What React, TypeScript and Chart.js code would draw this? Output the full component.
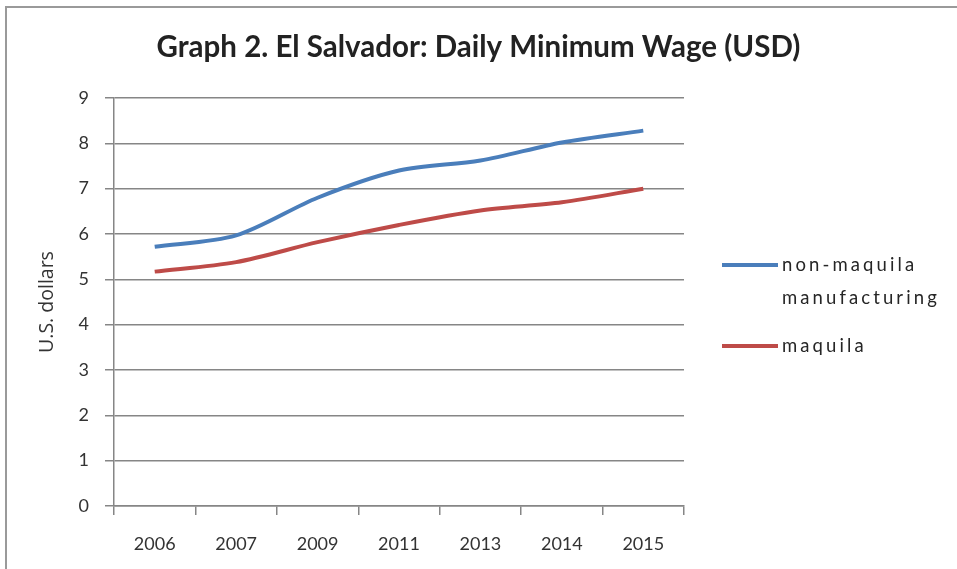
import React, { useEffect, useRef } from "react";
import { Chart, registerables } from "chart.js";

Chart.register(...registerables);

const years = ["2006", "2007", "2009", "2011", "2013", "2014", "2015"];
const nonMaquila = [5.72, 5.97, 6.8, 7.4, 7.62, 8.02, 8.28];
const maquila = [5.17, 5.38, 5.82, 6.2, 6.52, 6.7, 7.0];
const seriesNames = ["non-maquila manufacturing", "maquila"];
const seriesColors = ["#4a7ebb", "#be4b48"];
const titleText = "Graph 2. El Salvador: Daily Minimum Wage (USD)";
const yTitle = "U.S. dollars";

const FONT = "Lato, 'Open Sans', sans-serif";

export default function App() {
  const ref = useRef<HTMLCanvasElement | null>(null);

  useEffect(() => {
    if (!ref.current) return;
    const chart = new Chart(ref.current, {
      type: "line",
      data: {
        labels: years,
        datasets: [
          {
            label: seriesNames[0],
            data: nonMaquila,
            borderColor: seriesColors[0],
            backgroundColor: seriesColors[0],
            borderWidth: 4,
            pointRadius: 0,
            tension: 0.3,
          },
          {
            label: seriesNames[1],
            data: maquila,
            borderColor: seriesColors[1],
            backgroundColor: seriesColors[1],
            borderWidth: 4,
            pointRadius: 0,
            tension: 0.3,
          },
        ],
      },
      options: {
        animation: false,
        responsive: false,
        maintainAspectRatio: false,
        layout: { padding: 0 },
        plugins: {
          legend: { display: false },
          tooltip: { enabled: false },
          title: {
            display: true,
            text: titleText,
            color: "#222222",
            font: { family: FONT, size: 29.5, weight: "bold", lineHeight: 1.2 },
            padding: { top: 30, bottom: 32.6 },
          },
        },
        scales: {
          x: {
            offset: true,
            grid: {
              offset: true,
              drawOnChartArea: false,
              drawTicks: true,
              tickLength: 9,
              color: "#868686",
              lineWidth: 1.5,
            },
            border: { display: true, color: "#868686", width: 1.5 },
            ticks: {
              color: "#333333",
              font: { family: FONT, size: 18 },
              padding: 18,
              maxRotation: 0,
            },
            afterFit: (scale: any) => {
              scale.height = 63;
            },
          },
          y: {
            min: 0,
            max: 9,
            ticks: {
              stepSize: 1,
              color: "#333333",
              font: { family: FONT, size: 18 },
              padding: 16,
            },
            grid: {
              color: "#868686",
              lineWidth: 1.5,
              drawTicks: true,
              tickLength: 9,
            },
            border: { display: true, color: "#868686", width: 1.5 },
            title: {
              display: true,
              text: yTitle,
              color: "#333333",
              font: { family: "'Open Sans', sans-serif", size: 19.5 },
              padding: { top: 36, bottom: 0 },
            },
            afterFit: (scale: any) => {
              scale.width = 114;
            },
          },
          spacer: {
            type: "linear",
            position: "right",
            display: true,
            grid: { display: false, drawTicks: false },
            border: { display: false },
            ticks: { display: false },
            afterFit: (scale: any) => {
              scale.width = 273;
            },
          },
        },
      },
    });
    return () => chart.destroy();
  }, []);

  const legendText: React.CSSProperties = {
    position: "absolute",
    left: 782,
    fontFamily: FONT,
    fontSize: 18.5,
    letterSpacing: "3.1px",
    color: "#262626",
    lineHeight: "33px",
    whiteSpace: "nowrap",
  };

  return (
    <div
      style={{
        position: "fixed",
        left: 0,
        top: 0,
        width: 957,
        height: 569,
        background: "#ffffff",
        overflow: "hidden",
      }}
    >
      <div
        style={{
          position: "absolute",
          left: 5,
          top: 6,
          right: -10,
          bottom: -10,
          borderTop: "2px solid #9a9a9a",
          borderLeft: "2px solid #9a9a9a",
        }}
      />
      <canvas
        ref={ref}
        width={957}
        height={569}
        style={{ position: "absolute", left: 0, top: 0, width: 957, height: 569 }}
      />
      <div style={{ position: "absolute", left: 722, top: 263, width: 56, height: 4, background: seriesColors[0] }} />
      <div style={{ ...legendText, top: 248 }}>
        non-maquila
        <br />
        manufacturing
      </div>
      <div style={{ position: "absolute", left: 722, top: 344, width: 56, height: 4, background: seriesColors[1] }} />
      <div style={{ ...legendText, top: 329 }}>maquila</div>
    </div>
  );
}
